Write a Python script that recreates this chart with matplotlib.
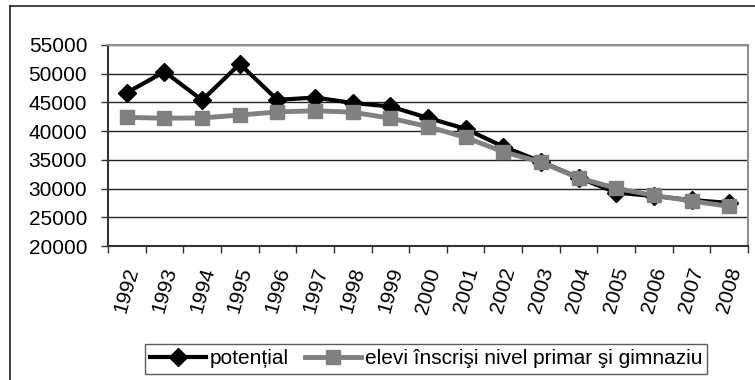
import numpy as np
import matplotlib.pyplot as plt
from matplotlib.lines import Line2D

plt.rcParams['font.family'] = ['Liberation Sans', 'DejaVu Sans']

years = [str(y) for y in range(1992, 2009)]
potential = [46700, 50350, 45400, 51700, 45450, 45850, 44900, 44300, 42300,
             40400, 37300, 34700, 31900, 29300, 28700, 28000, 27500]
elevi = [42400, 42250, 42300, 42800, 43350, 43550, 43300, 42250, 40800,
         38900, 36400, 34600, 31850, 30050, 28800, 27850, 26900]

fig = plt.figure(figsize=(7.55, 3.8), dpi=100)
ax = fig.add_axes([108 / 755, 1 - 246 / 380, 640 / 755, 201 / 380])

# outer chart frame (only left and top edges fall inside the image)
fig.add_artist(Line2D([9.5 / 755, 9.5 / 755], [0, 1 - 6 / 380], color='#222222', lw=1.2))
fig.add_artist(Line2D([9.5 / 755, 1], [1 - 6 / 380, 1 - 6 / 380], color='#222222', lw=1.2))

x = np.arange(len(years))
ax.plot(x, potential, color='black', lw=3, marker='D', markersize=9,
        label='potențial', zorder=3)
ax.plot(x, elevi, color='#808080', lw=3.5, marker='s', markersize=10,
        label='elevi înscrişi nivel primar şi gimnaziu', zorder=4)

ax.set_xlim(-0.5, len(years) - 0.5)
ax.set_ylim(20000, 55000)
ax.set_yticks(np.arange(20000, 55001, 5000))
ax.tick_params(axis='y', labelsize=15, length=5, width=1, color='#333333', pad=10)
ax.grid(axis='y', color='#222222', lw=1)
ax.set_axisbelow(True)

ax.set_xticks(np.arange(-0.5, len(years), 1.0))
ax.set_xticklabels([])
ax.set_xticks(x, minor=True)
ax.set_xticklabels(years, minor=True, rotation=74, fontsize=15,
                   ha='center', va='top')
ax.tick_params(axis='x', which='major', length=5, width=1, color='#333333')
ax.tick_params(axis='x', which='minor', length=0, pad=14)

ax.spines['left'].set_color('#333333')
ax.spines['bottom'].set_color('#333333')
ax.spines['left'].set_linewidth(1.5)
ax.spines['bottom'].set_linewidth(1.5)
ax.spines['top'].set_color('#909090')
ax.spines['right'].set_color('#909090')
ax.spines['top'].set_linewidth(1.5)
ax.spines['right'].set_linewidth(1.5)

leg = fig.legend(loc='center', bbox_to_anchor=(426 / 755, 1 - 359 / 380), ncol=2,
                 fontsize=15, frameon=True, fancybox=False, handlelength=2.7,
                 handletextpad=0.15, columnspacing=0.8, borderpad=0.25,
                 borderaxespad=0)
leg.get_frame().set_edgecolor('#333333')
leg.get_frame().set_linewidth(1)

fig.savefig('out.png', dpi=100)
